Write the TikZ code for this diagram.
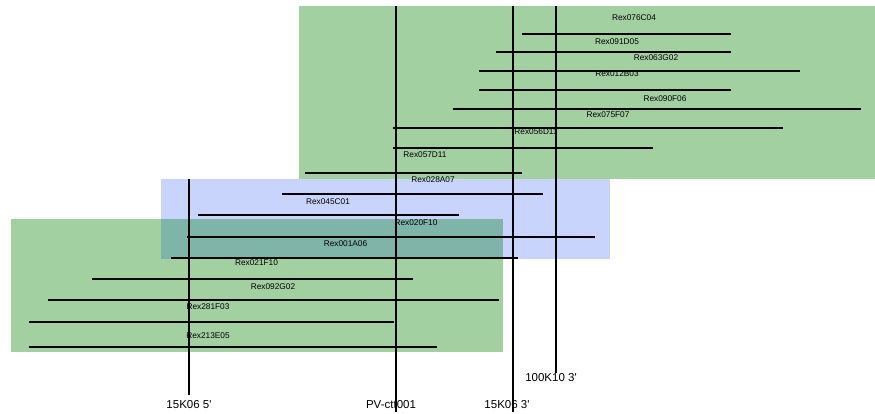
\documentclass[tikz,border=0pt]{standalone}
\usepackage{fontspec}
\setmainfont{Liberation Sans}
\newfontfamily\plainsans{Liberation Sans}
\definecolor{bggreen}{HTML}{A3D0A1}
\definecolor{bgblue}{HTML}{C8D4FC}
\definecolor{bgteal}{HTML}{7FB5A8}
\tikzset{
  clone/.style={line width=1.3pt, black},
  marker/.style={line width=1.6pt, black},
  clonelbl/.style={font=\plainsans\fontsize{8.3}{9}\selectfont, inner sep=0pt},
  markerlbl/.style={font=\plainsans\fontsize{11.5}{13}\selectfont, inner sep=0pt},
}
\begin{document}
\begin{tikzpicture}[x=1pt,y=-1pt]
\useasboundingbox (0,0) rectangle (875,414);
% regions
\fill[bggreen] (299,6) rectangle (875,179);
\fill[bgblue] (161,179) rectangle (610,259);
\fill[bggreen] (11,219) rectangle (503,352);
\fill[bgteal] (161,219) rectangle (503,259);
% clone lines
\draw[clone] (522,34) -- (731,34);
\draw[clone] (496,52) -- (731,52);
\draw[clone] (479,71) -- (800,71);
\draw[clone] (479,90) -- (731,90);
\draw[clone] (453,109) -- (861,109);
\draw[clone] (393,128) -- (783,128);
\draw[clone] (393,148) -- (653,148);
\draw[clone] (305,173) -- (522,173);
\draw[clone] (282,194) -- (543,194);
\draw[clone] (198,215) -- (459,215);
\draw[clone] (187,237) -- (595,237);
\draw[clone] (171,258) -- (518,258);
\draw[clone] (92,279) -- (413,279);
\draw[clone] (48,300) -- (499,300);
\draw[clone] (29,322) -- (394,322);
\draw[clone] (29,347) -- (437,347);
% clone labels
\node[clonelbl] (c1) at (634,17.5) {Rex076C04};
\node[clonelbl] (c2) at (617,41.5) {Rex091D05};
\node[clonelbl] (c3) at (656,57.5) {Rex063G02};
\node[clonelbl] (c4) at (617,74) {Rex012B03};
\node[clonelbl] (c5) at (665,98.5) {Rex090F06};
\node[clonelbl] (c6) at (608,114.5) {Rex075F07};
\node[clonelbl] (c7) at (536,132) {Rex056D11};
\node[clonelbl] (c8) at (425,155) {Rex057D11};
\node[clonelbl] (c9) at (433,179.5) {Rex028A07};
\node[clonelbl] (c10) at (328,201.5) {Rex045C01};
\node[clonelbl] (c11) at (416,222.5) {Rex020F10};
\node[clonelbl] (c12) at (345.5,243.5) {Rex001A06};
\node[clonelbl] (c13) at (256.5,263) {Rex021F10};
\node[clonelbl] (c14) at (273,286.5) {Rex092G02};
\node[clonelbl] (c15) at (208,307) {Rex281F03};
\node[clonelbl] (c16) at (208,336) {Rex213E05};
% markers
\coordinate (m1t) at (189,179);
\coordinate (m1b) at (189,395);
\coordinate (m2t) at (396,6);
\coordinate (m2b) at (396,412);
\coordinate (m3t) at (513,6);
\coordinate (m3b) at (513,412);
\coordinate (m4t) at (556,6);
\coordinate (m4b) at (556,373);
\draw[marker] (m1t) -- (m1b);
\draw[marker] (m2t) -- (m2b);
\draw[marker] (m3t) -- (m3b);
\draw[marker] (m4t) -- (m4b);
\node[markerlbl] (l1) at (189,404.5) {15K06 5'};
\node[markerlbl] (l2) at (391,404.5) {PV-ctt001};
\node[markerlbl] (l3) at (507,404.5) {15K06 3'};
\node[markerlbl] (l4) at (551,378) {100K10 3'};
\end{tikzpicture}
\end{document}
